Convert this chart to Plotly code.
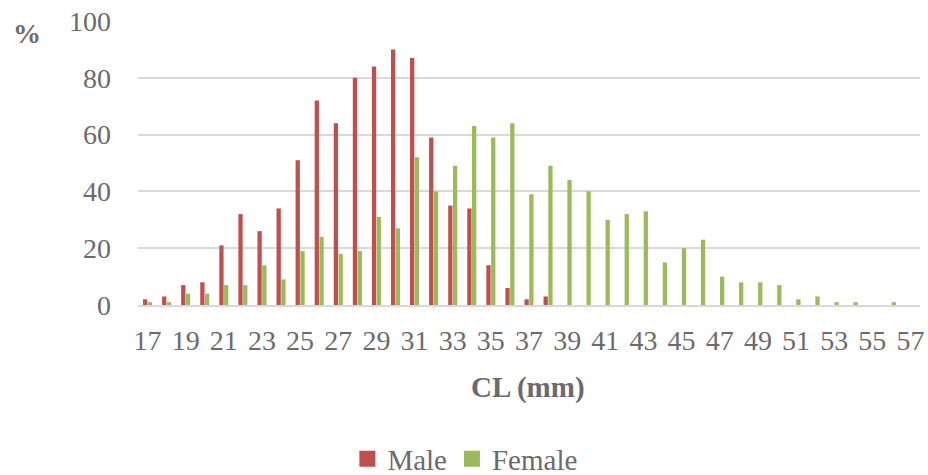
import plotly.graph_objects as go

# Carapace length classes (mm)
cl_mm = list(range(17, 58))

# Percentage per size class
male = [2, 3, 7, 8, 21, 32, 26, 34, 51, 72, 64, 80, 84, 90, 87, 59, 35, 34, 14, 6, 2, 3,
        0, 0, 0, 0, 0, 0, 0, 0, 0, 0, 0, 0, 0, 0, 0, 0, 0, 0, 0]
female = [1, 1, 4, 4, 7, 7, 14, 9, 19, 24, 18, 19, 31, 27, 52, 40, 49, 63, 59, 64, 39, 49,
          44, 40, 30, 32, 33, 15, 20, 23, 10, 8, 8, 7, 2, 3, 1, 1, 0, 1, 0]

x_ticks = list(range(17, 58, 2))
y_ticks = [0, 20, 40, 60, 80, 100]

FONT = "Liberation Serif, Times New Roman, serif"
TXT = "#6b6b6b"
GRID = "#d9d9d9"
RED = "#C0504D"
GREEN = "#9BBB59"

fig = go.Figure()
fig.add_trace(go.Bar(x=cl_mm, y=male, name="Male", legendgroup="m", showlegend=False,
                     marker=dict(color=RED, line=dict(width=0))))
fig.add_trace(go.Bar(x=cl_mm, y=female, name="Female", legendgroup="f", showlegend=False,
                     marker=dict(color=GREEN, line=dict(width=0))))

# Square legend keys
for nm, col, grp in [("Male", RED, "m"), ("Female", GREEN, "f")]:
    fig.add_trace(go.Scatter(x=[None], y=[None], mode="markers", name=nm, legendgroup=grp,
                             marker=dict(symbol="square", size=16, color=col)))

fig.update_layout(
    width=928, height=475,
    margin=dict(l=138, r=8, t=21, b=170, autoexpand=False),
    paper_bgcolor="white", plot_bgcolor="white",
    barmode="group", bargap=0.5, bargroupgap=0.1,
    font=dict(family=FONT, color=TXT, size=28),
    showlegend=True,
    legend=dict(orientation="h", x=0.418, xanchor="center", xref="paper",
                y=0.034, yanchor="middle", yref="container",
                font=dict(family=FONT, size=29, color=TXT), itemwidth=30,
                bgcolor="rgba(0,0,0,0)"),
    annotations=[
        dict(text="<b>CL (mm)</b>", xref="paper", yref="paper", x=0.4987, y=-0.289,
             xanchor="center", yanchor="middle", showarrow=False,
             font=dict(family=FONT, size=29, color=TXT)),
        dict(text="<b>%</b>", xref="paper", yref="paper", x=-0.142, y=0.955,
             xanchor="center", yanchor="middle", showarrow=False,
             font=dict(family=FONT, size=28, color=TXT)),
    ],
)

fig.update_xaxes(
    range=[16.5, 57.5], tickmode="array", tickvals=x_ticks,
    ticktext=[str(v) for v in x_ticks], showgrid=False, zeroline=False,
    showline=True, linecolor=GRID, linewidth=1.5, ticks="",
    ticklabelstandoff=10, tickfont=dict(family=FONT, size=28, color=TXT),
)
fig.update_yaxes(
    range=[0, 100], tickmode="array", tickvals=y_ticks,
    showgrid=True, gridcolor=GRID, gridwidth=1.5, zeroline=False,
    showline=False, ticks="", ticklabelstandoff=26,
    tickfont=dict(family=FONT, size=28, color=TXT),
)

fig.write_html("out.html")
